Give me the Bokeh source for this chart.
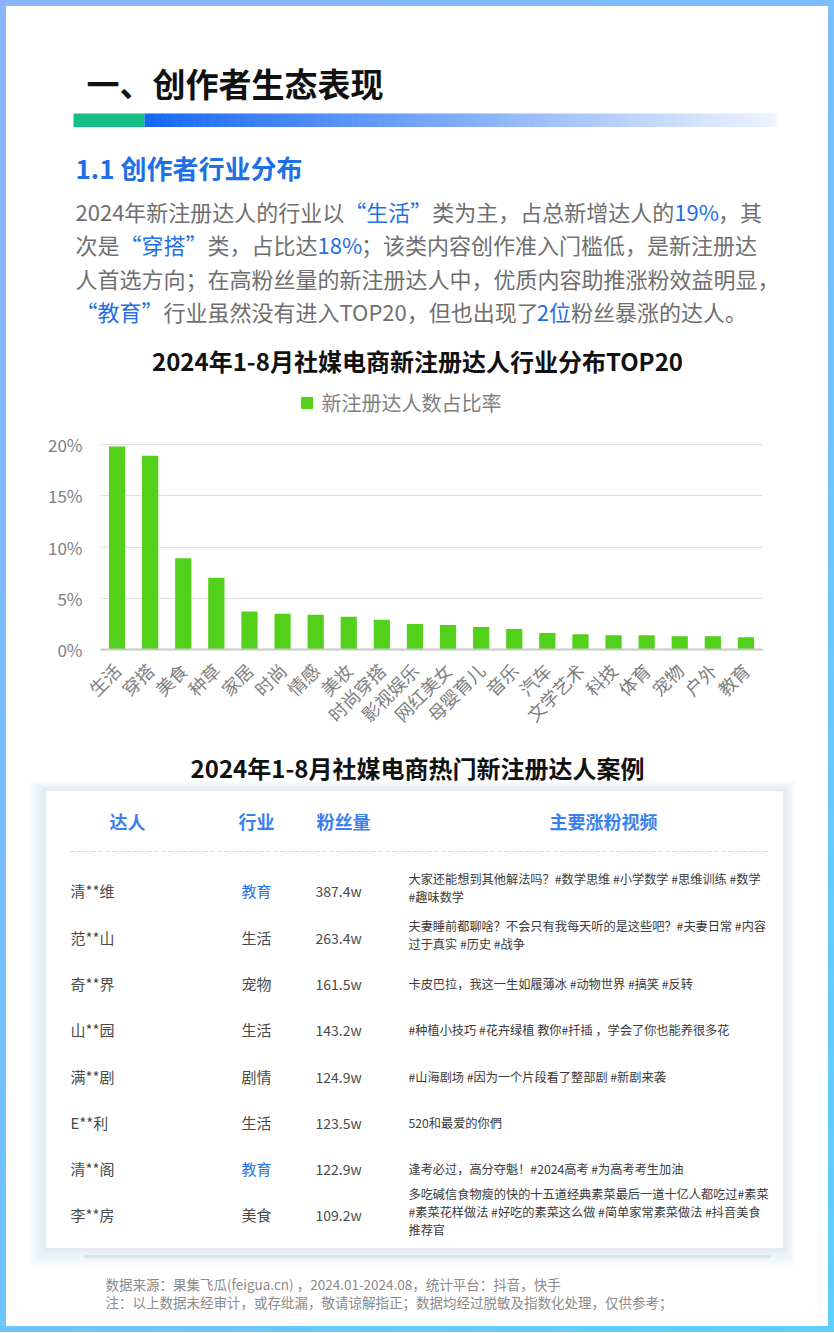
import math
import numpy as np
from bokeh.plotting import figure
from bokeh.models import Range1d, FixedTicker, PrintfTickFormatter, Legend, LegendItem
from bokeh.layouts import column
from bokeh.core.properties import value
from bokeh.embed import file_html
from bokeh.resources import INLINE

# ---------------- data ----------------
categories = ["生活", "穿搭", "美食", "种草", "家居", "时尚", "情感", "美妆", "时尚穿搭", "影视娱乐",
              "网红美女", "母婴育儿", "音乐", "汽车", "文学艺术", "科技", "体育", "宠物", "户外", "教育"]
share_pct = [19.8, 18.9, 8.9, 7.0, 3.7, 3.5, 3.4, 3.2, 2.9, 2.5,
             2.4, 2.2, 2.0, 1.6, 1.5, 1.4, 1.4, 1.3, 1.3, 1.2]
y_ticks = [0, 5, 10, 15, 20]
series_name = "新注册达人数占比率"

table_headers = ["达人", "行业", "粉丝量", "主要涨粉视频"]
names = ["清**维", "范**山", "奇**界", "山**园", "满**剧", "E**利", "清**阁", "李**房"]
industries = ["教育", "生活", "宠物", "生活", "剧情", "生活", "教育", "美食"]
fans_w = [387.4, 263.4, 161.5, 143.2, 124.9, 123.5, 122.9, 109.2]
videos = [
    ["大家还能想到其他解法吗？#数学思维 #小学数学 #思维训练 #数学", "#趣味数学"],
    ["夫妻睡前都聊啥？不会只有我每天听的是这些吧？#夫妻日常 #内容", "过于真实 #历史 #战争"],
    ["卡皮巴拉，我这一生如履薄冰 #动物世界 #搞笑 #反转"],
    ["#种植小技巧 #花卉绿植 教你#扦插 ，学会了你也能养很多花"],
    ["#山海剧场 #因为一个片段看了整部剧 #新剧来袭"],
    ["520和最爱的你們"],
    ["逢考必过，高分夺魁！#2024高考 #为高考考生加油"],
    ["多吃碱信食物瘦的快的十五道经典素菜最后一道十亿人都吃过#素菜",
     "#素菜花样做法 #好吃的素菜这么做 #简单家常素菜做法 #抖音美食", "推荐官"],
]

page_title = "一、创作者生态表现"
section_title = "1.1 创作者行业分布"
chart_title = "2024年1-8月社媒电商新注册达人行业分布TOP20"
table_title = "2024年1-8月社媒电商热门新注册达人案例"
para_lines = [
    [("2024年新注册达人的行业以", 0), ("“生活”", 1), ("类为主，占总新增达人的", 0), ("19%", 1), ("，其", 0)],
    [("次是", 0), ("“穿搭”", 1), ("类，占比达", 0), ("18%", 1), ("；该类内容创作准入门槛低，是新注册达", 0)],
    [("人首选方向；在高粉丝量的新注册达人中，优质内容助推涨粉效益明显，", 0)],
    [("“教育”", 1), ("行业虽然没有进入TOP20，但也出现了", 0), ("2位", 1), ("粉丝暴涨的达人。", 0)],
]
footer_lines = ["数据来源：果集飞瓜(feigua.cn) ，2024.01-2024.08，统计平台：抖音，快手",
                "注：以上数据未经审计，或存纰漏，敬请谅解指正；数据均经过脱敏及指数化处理，仅供参考；"]

FONT = "Noto Sans CJK SC"
GRAY = "#6f6f6f"
BLUE = "#1f6fe6"
GREEN = "#52d01a"
BORDER = 6
W = 834 - 2 * BORDER
X0 = BORDER


def no_align(f):
    try:
        f.frame_align = False
    except Exception:
        pass


def canvas(height, y_top):
    f = figure(width=W, height=height, x_range=Range1d(X0, X0 + W),
               y_range=Range1d(y_top + height, y_top),
               x_axis_location=None, y_axis_location=None, title=None,
               output_backend="svg", toolbar_location=None, min_border=0)
    f.grid.visible = False
    f.outline_line_color = None
    f.background_fill_color = "white"
    f.border_fill_color = "white"
    no_align(f)
    return f


def txt(f, x, y, s, size, color, bold=False, align="left"):
    f.text(x=[x], y=[y], text=[s], text_font=value(FONT), text_font_size=f"{size}px",
           text_color=color, text_align=align, text_baseline="middle",
           text_font_style="bold" if bold else "normal")


def est_width(s, size):
    w = 0.0
    for ch in s:
        o = ord(ch)
        if o >= 0x2E80 or ch in "，；。：！？“”":
            w += 1.0
        elif ch.isdigit():
            w += 0.555
        elif ch == "%":
            w += 0.87
        elif ch.isupper():
            w += 0.62
        elif ch in ". ":
            w += 0.25
        else:
            w += 0.5
    return w * size


# ---------------- header ----------------
H1_TOP, H1_H = BORDER, 379
head = canvas(H1_H, H1_TOP)
txt(head, 86, 82, page_title, 33, "#111111", bold=True)

# gradient rule
head.quad(left=[73], right=[144], top=[113], bottom=[126.5], fill_color="#15bd87", line_color=None)
n = 140
xs = np.linspace(144, 776, n + 1)
c0 = np.array([0x16, 0x68, 0xF4])
c1 = np.array([0xEE, 0xF4, 0xFE])
cols = []
for i in range(n):
    t = i / (n - 1)
    c = (c0 * (1 - t) + c1 * t).astype(int)
    cols.append("#%02x%02x%02x" % tuple(c))
head.quad(left=xs[:-1], right=xs[1:] + 0.6, top=[113] * n, bottom=[126.5] * n,
          fill_color=cols, line_color=None)

txt(head, 75, 167, section_title, 26, BLUE, bold=True)

PARA_SIZE = 22
para_y = [210, 243.5, 277, 310.5]
for segs, yy in zip(para_lines, para_y):
    x = 75
    for s, hl in segs:
        txt(head, x, yy, s, PARA_SIZE, BLUE if hl else GRAY)
        x += est_width(s, PARA_SIZE)

txt(head, 417, 360, chart_title, 24, "#111111", bold=True, align="center")

# ---------------- chart ----------------
C_TOP, C_H = H1_TOP + H1_H, 360
FRAME_L, FRAME_R, FRAME_T, FRAME_B = 99.5, 761.5, 388, 649
PX_PER_PCT = 10.25
chart = figure(width=W, height=C_H, x_range=categories,
               y_range=Range1d(0, (FRAME_B - FRAME_T) / PX_PER_PCT), title=None,
               output_backend="svg", toolbar_location=None,
               min_border_left=int(round(FRAME_L - X0)), min_border_right=int(round(X0 + W - FRAME_R)),
               min_border_top=int(FRAME_T - C_TOP), min_border_bottom=int(C_TOP + C_H - FRAME_B))
no_align(chart)
chart.outline_line_color = None
bars = chart.vbar(x=categories, top=share_pct, width=0.49, fill_color=GREEN, line_color=None)
chart.yaxis.ticker = FixedTicker(ticks=y_ticks)
chart.yaxis.formatter = PrintfTickFormatter(format="%d%%")
chart.yaxis.axis_line_color = None
chart.yaxis.major_tick_line_color = None
chart.yaxis.minor_tick_line_color = None
chart.yaxis.major_label_text_font = FONT
chart.yaxis.major_label_text_font_size = "17px"
chart.yaxis.major_label_text_color = "#808080"
chart.yaxis.major_label_standoff = 12
chart.xaxis.major_label_orientation = math.pi / 4
chart.xaxis.major_label_text_font = FONT
chart.xaxis.major_label_text_font_size = "18px"
chart.xaxis.major_label_text_color = "#808080"
chart.xaxis.major_tick_line_color = None
chart.xaxis.axis_line_color = "#c8c8c8"
chart.xaxis.axis_line_width = 2
chart.xaxis.major_label_standoff = 11
chart.xgrid.visible = False
chart.ygrid.grid_line_color = "#dedede"
chart.ygrid.grid_line_width = 1

lg = Legend(items=[LegendItem(label=series_name, renderers=[bars])],
            location=(198.5, 232), orientation="horizontal",
            glyph_width=15, glyph_height=15, label_text_font=FONT, label_text_font_size="20px",
            label_text_color="#7f7f7f", border_line_color=None, background_fill_alpha=0,
            padding=0, margin=0, label_standoff=8)
chart.add_layout(lg, "center")

# ---------------- table ----------------
T_TOP = C_TOP + C_H
T_H = 1320 - H1_H - C_H
tab = canvas(T_H, T_TOP)
txt(tab, 417, 767, table_title, 24, "#111111", bold=True, align="center")

# card shadow
for k in range(10, 0, -1):
    tab.quad(left=[45 - k * 1.6], right=[783 + k * 1.2], top=[790 - k * 1.0], bottom=[1248 + k * 1.8],
             fill_color="#6f8fe0", fill_alpha=0.018, line_color=None)
tab.quad(left=[45], right=[783], top=[790], bottom=[1248], fill_color="white",
         line_color="#e6ebf3", line_width=1)

hdr_x = [127, 256, 343, 603]
for hx, h in zip(hdr_x, table_headers):
    txt(tab, hx, 820, h, 18, "#3a7ff0", bold=True, align="center")
tab.line(x=[70, 768], y=[851, 851], line_color="#c9d4e2", line_width=1.2, line_dash="4 3")

row_y = [890, 937, 983, 1029, 1076, 1122, 1168, 1214]
for i, ry in enumerate(row_y):
    txt(tab, 70, ry, names[i], 15, "#4a4a4a")
    txt(tab, 241, ry, industries[i], 15, BLUE if industries[i] == "教育" else "#4a4a4a")
    txt(tab, 315, ry, f"{fans_w[i]:.1f}w", 14, "#4a4a4a")
    lines = videos[i]
    nl = len(lines)
    for j, ln in enumerate(lines):
        ly = ry + (j - (nl - 1) / 2) * 18 - (3 if nl > 1 else 0)
        txt(tab, 408, ly, ln, 12.2, "#3a3a3a")

tab.line(x=[83, 770], y=[1256, 1256], line_color="#cfe8ea", line_width=3)
txt(tab, 105, 1283, footer_lines[0], 13.5, "#8a8a8a")
txt(tab, 105, 1301, footer_lines[1], 13.5, "#8a8a8a")

page = column(head, chart, tab, spacing=0,
              styles={"border": f"{BORDER}px solid #8ab8ff",
                      "border-image": "linear-gradient(135deg, #8cb4ff, #5ccffb) 1"})

open("out.html", "w").write(file_html(page, INLINE))
